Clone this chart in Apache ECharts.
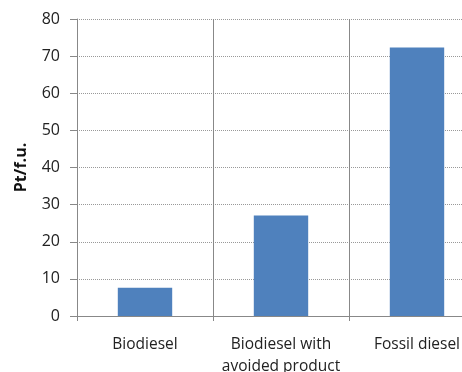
<!DOCTYPE html>
<html>
<head>
<meta charset="utf-8">
<script src="https://cdn.jsdelivr.net/npm/echarts@6/dist/echarts.min.js"></script>
<style>
  html, body { margin: 0; padding: 0; background: #fff; overflow: hidden; }
  /* the third category runs past the right edge of the picture */
  #chart { width: 485px; height: 372px; }
</style>
</head>
<body>
<div id="chart"></div>
<script>
// categories and values
var categories = ["Biodiesel", "Biodiesel with\navoided product", "Fossil diesel"];
var values = [7.6, 27.1, 72.3];
var yTicks = { min: 0, max: 80, interval: 10 };

var chart = echarts.init(document.getElementById("chart"));
var font = "'Open Sans', sans-serif";
var option = {
  animation: false,
  grid: {
    left: 77,
    top: 19,
    bottom: 56,
    right: 0,
    outerBoundsMode: "none"
  },
  xAxis: {
    type: "category",
    data: categories,
    axisLine: { lineStyle: { color: "#888", width: 1 } },
    axisTick: { show: true, length: 5, lineStyle: { color: "#888" } },
    splitLine: { show: true, lineStyle: { color: "#888", width: 1 } },
    axisLabel: {
      color: "#222",
      fontFamily: font,
      fontSize: 15.5,
      lineHeight: 22,
      margin: 18,
      interval: 0
    }
  },
  yAxis: {
    type: "value",
    min: yTicks.min,
    max: yTicks.max,
    interval: yTicks.interval,
    name: "Pt/f.u.",
    nameLocation: "middle",
    nameGap: 48,
    nameTextStyle: {
      color: "#111",
      fontFamily: font,
      fontSize: 16,
      fontWeight: "bold"
    },
    axisLine: { show: true, lineStyle: { color: "#888", width: 1 } },
    axisTick: { show: true, length: 7, lineStyle: { color: "#888" } },
    splitLine: {
      show: true,
      lineStyle: { color: "#999", type: [1, 1], width: 1 }
    },
    axisLabel: {
      color: "#222",
      fontFamily: font,
      fontSize: 16,
      margin: 17
    }
  },
  series: [
    {
      type: "bar",
      data: values,
      barWidth: "40%",
      itemStyle: { color: "#4F81BD" }
    }
  ]
};
chart.setOption(option);
</script>
</body>
</html>
